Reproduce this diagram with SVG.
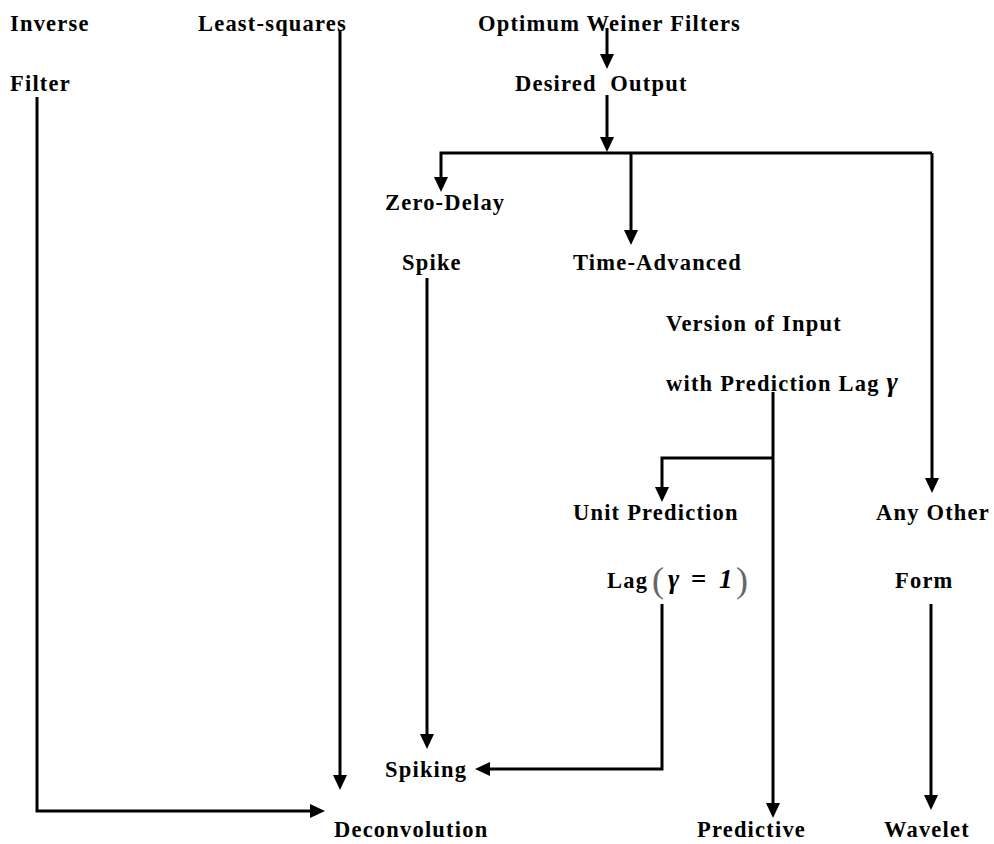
<svg xmlns="http://www.w3.org/2000/svg" width="994" height="844" viewBox="0 0 994 844">
<style>
text{font-family:"Liberation Serif","Times New Roman",serif;font-weight:bold;font-size:22.5px;letter-spacing:1.2px;fill:#000}
.m{font-style:italic;letter-spacing:0;font-size:27px}
.p{font-weight:normal;font-size:36px;fill:#666;letter-spacing:0}
.c{fill:none;stroke:#000;stroke-width:3}
</style>
<defs>
<marker id="ah" markerUnits="userSpaceOnUse" markerWidth="16" markerHeight="16" refX="1" refY="7" orient="auto">
<path d="M0,0 L15,7 L0,14 Z" fill="#000"/>
</marker>
</defs>
<rect width="994" height="844" fill="#fff"/>
<g id="connectors">
<path class="c" d="M37,97 V811 H311" marker-end="url(#ah)"/>
<path class="c" d="M340,30 V776" marker-end="url(#ah)"/>
<path class="c" d="M607,28 V55" marker-end="url(#ah)"/>
<path class="c" d="M607,95 V138" marker-end="url(#ah)"/>
<path class="c" d="M607,153 H932"/>
<path class="c" d="M607,153 H441 V178" marker-end="url(#ah)"/>
<path class="c" d="M631,153 V231" marker-end="url(#ah)"/>
<path class="c" d="M932,153 V479" marker-end="url(#ah)"/>
<path class="c" d="M427,278 V735" marker-end="url(#ah)"/>
<path class="c" d="M773,392 V804" marker-end="url(#ah)"/>
<path class="c" d="M773,458 H662 V488" marker-end="url(#ah)"/>
<path class="c" d="M662,604 V769 H489" marker-end="url(#ah)"/>
<path class="c" d="M931,604 V796" marker-end="url(#ah)"/>
</g>
<g id="inverse-filter"><text x="10" y="31">Inverse</text><text x="10" y="91">Filter</text></g>
<g id="least-squares"><text x="198" y="31">Least-squares</text></g>
<g id="optimum"><text x="478" y="31">Optimum Weiner Filters</text></g>
<g id="desired-output"><text x="515" y="91" xml:space="preserve">Desired  Output</text></g>
<g id="zero-delay"><text x="385" y="210">Zero-Delay</text><text x="402" y="270">Spike</text></g>
<g id="time-advanced"><text x="573" y="270">Time-Advanced</text><text x="666" y="331">Version of Input</text><text x="666" y="391">with Prediction Lag <tspan class="m">γ</tspan></text></g>
<g id="unit-prediction"><text x="607" y="588">Lag</text><text x="652" y="592" class="p">(</text><text x="668" y="588" class="m">γ</text><text x="691" y="588" style="font-size:27px;letter-spacing:0">=</text><text x="719" y="588" class="m">1</text><text x="736" y="592" class="p">)</text><text x="573" y="520">Unit Prediction</text></g>
<g id="any-other"><text x="876" y="520">Any Other</text><text x="895" y="588">Form</text></g>
<g id="spiking"><text x="385" y="777">Spiking</text></g>
<g id="deconvolution"><text x="334" y="837">Deconvolution</text></g>
<g id="predictive"><text x="697" y="837">Predictive</text></g>
<g id="wavelet"><text x="884" y="837">Wavelet</text></g>
</svg>
